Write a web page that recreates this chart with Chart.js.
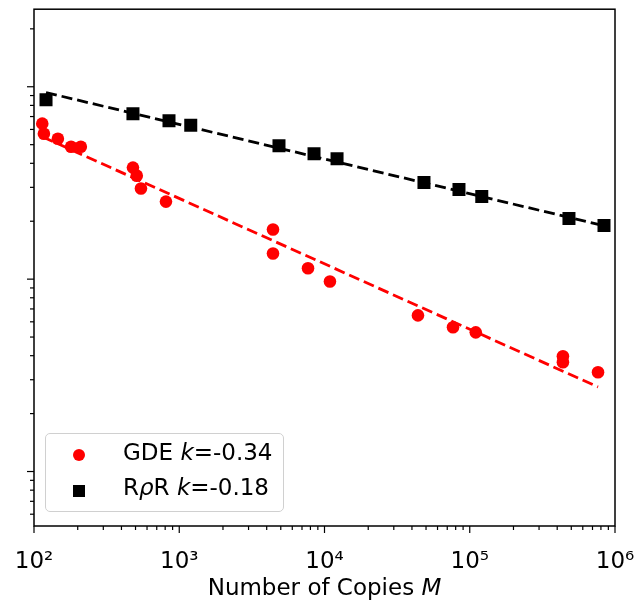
<!DOCTYPE html>
<html>
<head>
<meta charset="utf-8">
<script src="https://cdn.jsdelivr.net/npm/chart.js@4"></script>
<style>
  body { margin: 0; background: #fff; }
  #wrap { position: relative; width: 637px; height: 602px; font-family: 'DejaVu Sans', sans-serif; color: #000; }
  #myChart { position: absolute; left: 0; top: 0; }
  #xTitle { position: absolute; left: 0; width: 649px; top: 574px; text-align: center; font-size: 23px; line-height: 27px; white-space: nowrap; }
  #legendBox { position: absolute; left: 45px; top: 433px; width: 237px; height: 77px; border: 1.5px solid #d0d0d0; border-radius: 5px; background: rgba(255, 255, 255, 0.8); }
  .legendText { position: absolute; left: 123px; font-size: 23px; line-height: 27px; white-space: nowrap; }
  .dot { position: absolute; left: 73px; top: 449px; width: 12px; height: 12px; border-radius: 50%; background: red; }
  .square { position: absolute; left: 73px; top: 485px; width: 12px; height: 12px; background: #000; }
</style>
</head>
<body>
<div id="wrap">
  <canvas id="myChart" width="637" height="602"></canvas>
  <div id="legendBox"></div>
  <div class="dot"></div>
  <div class="legendText" style="top: 439px;">GDE <i>k</i>=-0.34</div>
  <div class="square"></div>
  <div class="legendText" style="top: 474px;">R<i>ρ</i>R <i>k</i>=-0.18</div>
  <div id="xTitle">Number of Copies <i>M</i></div>
</div>

<script>
// values (log-log axes)

// GDE - red circles
var gdeCopies = [114, 117, 146, 180, 210, 480, 510, 545, 810, 4420, 4420, 7700, 10900, 44000, 76700, 110000, 438000, 438000, 764000];
var gdeValues = [0.643, 0.570, 0.537, 0.488, 0.488, 0.380, 0.345, 0.296, 0.253, 0.181, 0.136, 0.114, 0.0973, 0.0648, 0.0562, 0.0529, 0.0397, 0.0370, 0.0328];

// RpR - black squares
var rprCopies = [121, 480, 850, 1200, 4860, 8470, 12200, 48400, 84300, 121000, 482000, 840000];
var rprValues = [0.856, 0.724, 0.666, 0.631, 0.494, 0.449, 0.423, 0.318, 0.292, 0.269, 0.2065, 0.190];

// dashed fit lines (end points)
var gdeFitCopies = [115, 764000];
var gdeFitValues = [0.548, 0.0275];
var rprFitCopies = [121, 840000];
var rprFitValues = [0.933, 0.1895];

// axes
var xMajorTicks = [100, 1000, 10000, 100000, 1000000];
var xTickLabels = ['10²', '10³', '10⁴', '10⁵', '10⁶'];
var yMajorTicks = [0.01, 0.1, 1];


function toPoints(xs, ys) {
    return xs.map(function (x, i) { return { x: x, y: ys[i] }; });
}

// 1..9 x every decade between lo and hi
function logTicks(lo, hi, majors) {
    var list = [];
    for (var e = Math.floor(Math.log10(lo)); e <= Math.ceil(Math.log10(hi)); e++) {
        var dec = Math.pow(10, e);
        for (var m = 1; m <= 9; m++) {
            var v = m === 1 ? (majors.find(function (t) { return Math.abs(t - dec) < dec * 1e-9; }) || dec) : parseFloat((m * dec).toPrecision(6));
            if (v >= lo && v <= hi) list.push({ value: v, major: m === 1 });
        }
    }
    return list;
}

// spines + major/minor tick marks, matplotlib style
var frameAndTicks = {
    id: 'frameAndTicks',
    afterDraw: function (chart) {
        var ctx = chart.ctx;
        var area = chart.chartArea;
        ctx.save();
        ctx.strokeStyle = '#000';
        ctx.lineWidth = 1.2;
        chart.scales.x.ticks.forEach(function (t) {
            var px = chart.scales.x.getPixelForValue(t.value);
            ctx.beginPath();
            ctx.moveTo(px, area.bottom);
            ctx.lineTo(px, area.bottom + (t.major ? 7 : 4));
            ctx.stroke();
        });
        chart.scales.y.ticks.forEach(function (t) {
            var py = chart.scales.y.getPixelForValue(t.value);
            ctx.beginPath();
            ctx.moveTo(area.left, py);
            ctx.lineTo(area.left - (t.major ? 7 : 4), py);
            ctx.stroke();
        });
        ctx.lineWidth = 1.5;
        ctx.strokeRect(area.left, area.top, area.right - area.left, area.bottom - area.top);
        ctx.restore();
    }
};

Chart.defaults.font.family = "'DejaVu Sans', sans-serif";
Chart.defaults.font.size = 23;
Chart.defaults.color = '#000';

var ctx = document.getElementById('myChart').getContext('2d');

var myChart = new Chart(ctx, {
    type: 'scatter',
    data: {
        datasets: [{
            label: 'GDE fit',
            data: toPoints(gdeFitCopies, gdeFitValues),
            showLine: true,
            borderColor: 'red',
            borderWidth: 2.8,
            borderDash: [11, 5],
            pointRadius: 0,
            order: 0
        }, {
            label: 'RpR fit',
            data: toPoints(rprFitCopies, rprFitValues),
            showLine: true,
            borderColor: '#000',
            borderWidth: 2.8,
            borderDash: [11, 5],
            pointRadius: 0,
            order: 0
        }, {
            label: 'GDE',
            data: toPoints(gdeCopies, gdeValues),
            pointStyle: 'circle',
            pointRadius: 6.3,
            pointBorderWidth: 0,
            backgroundColor: 'red',
            borderColor: 'red',
            order: 1
        }, {
            label: 'RpR',
            data: toPoints(rprCopies, rprValues),
            pointStyle: 'rect',
            pointRadius: 9.2,
            pointBorderWidth: 0,
            backgroundColor: '#000',
            borderColor: '#000',
            order: 1
        }]
    },
    options: {
        responsive: false,
        animation: false,
        events: [],
        layout: {
            padding: { left: 0, right: 22, top: 8, bottom: 0 }
        },
        plugins: {
            legend: { display: false },
            tooltip: { enabled: false }
        },
        scales: {
            x: {
                type: 'logarithmic',
                min: 100,
                max: 1000000,
                grid: { display: false },
                border: { display: false },
                ticks: {
                    autoSkip: false,
                    maxRotation: 0,
                    padding: 14,
                    callback: function (value) {
                        var i = xMajorTicks.indexOf(value);
                        return i >= 0 ? xTickLabels[i] : '';
                    }
                },
                afterBuildTicks: function (scale) {
                    scale.ticks = logTicks(100, 1000000, xMajorTicks);
                },
                afterFit: function (scale) {
                    scale.height = 76;
                    scale.paddingLeft = 0;
                    scale.paddingRight = 0;
                }
            },
            y: {
                type: 'logarithmic',
                min: 0.00521,
                max: 2.53,
                grid: { display: false },
                border: { display: false },
                ticks: {
                    display: false,
                    autoSkip: false
                },
                afterBuildTicks: function (scale) {
                    scale.ticks = logTicks(0.00521, 2.53, yMajorTicks);
                },
                afterFit: function (scale) {
                    scale.width = 34;
                    scale.paddingTop = 0;
                    scale.paddingBottom = 0;
                }
            }
        }
    },
    plugins: [frameAndTicks]
});
</script>
</body>
</html>
